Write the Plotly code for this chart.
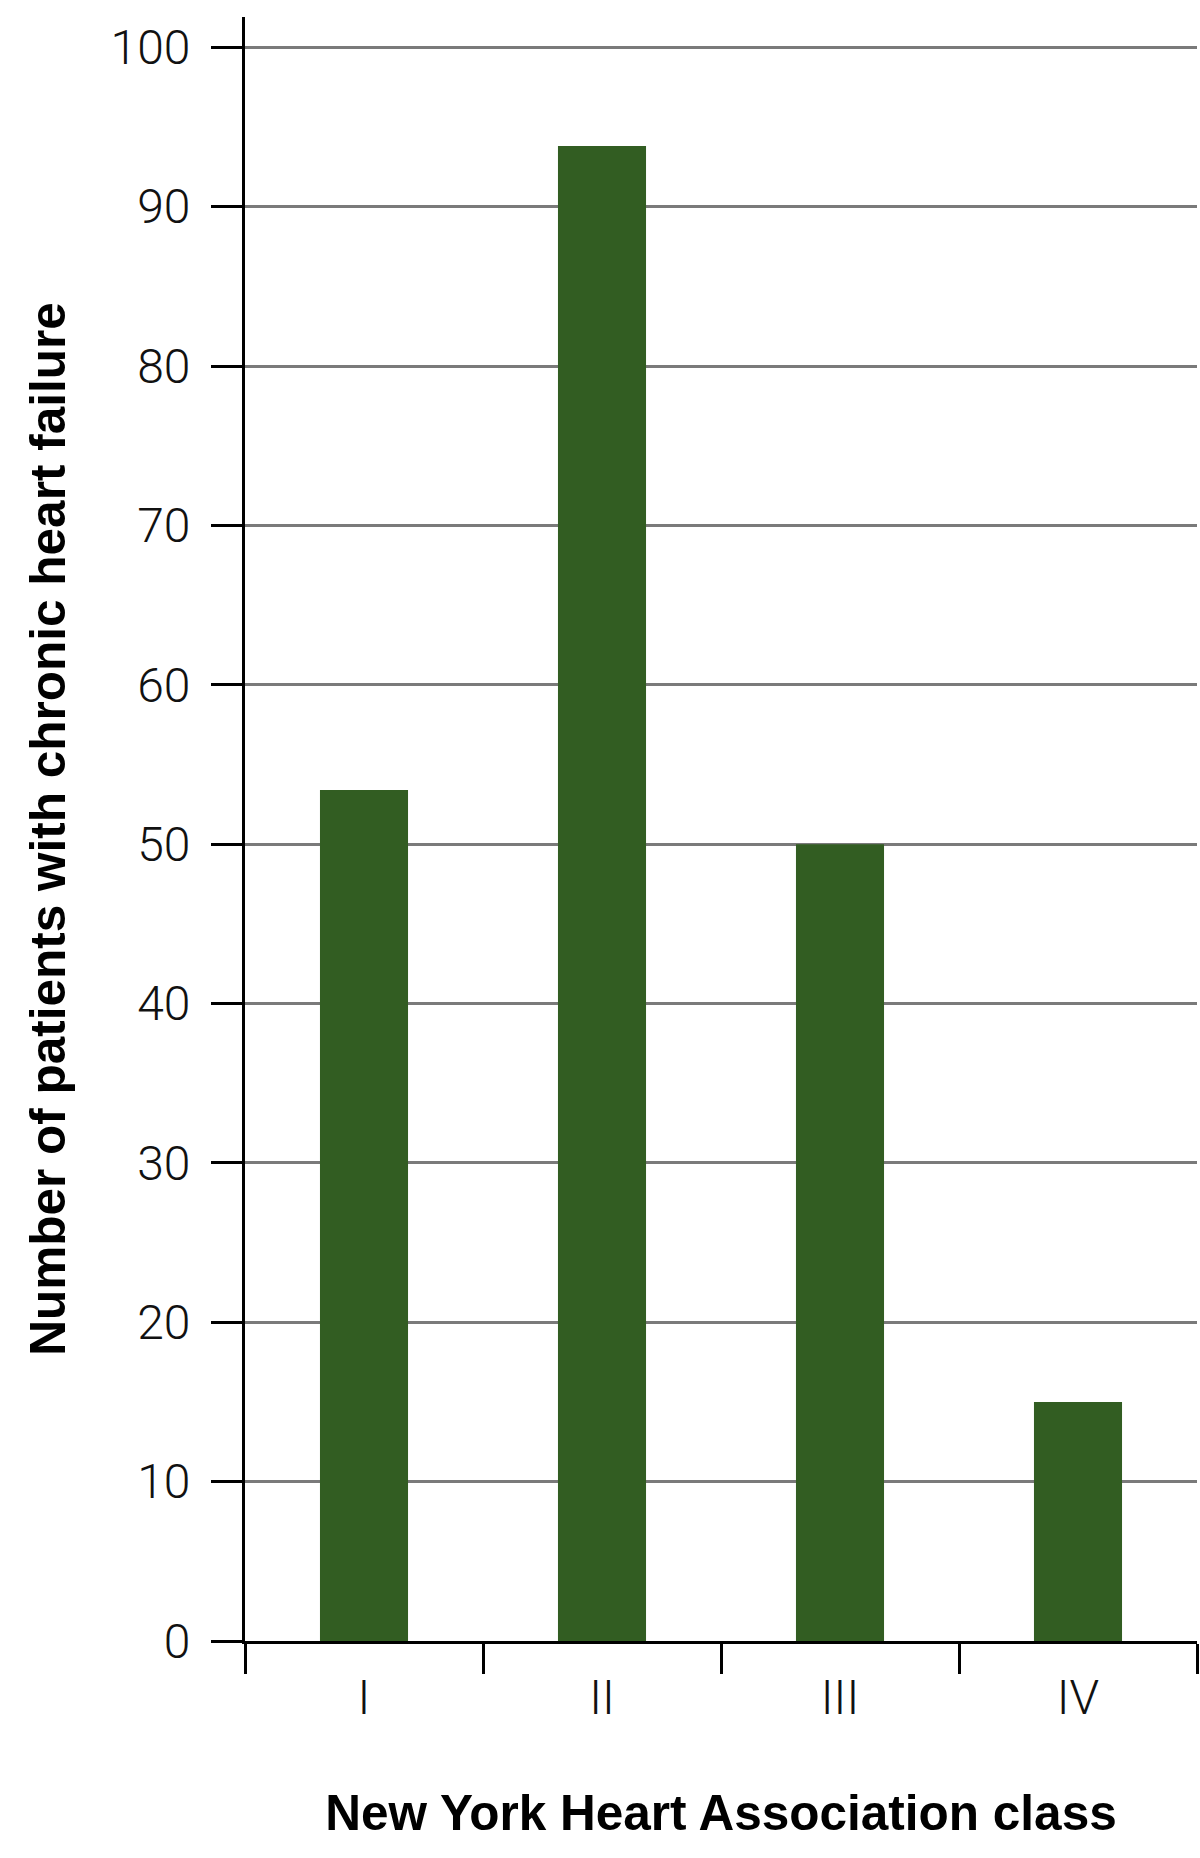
import plotly.graph_objects as go

categories = ["I", "II", "III", "IV"]
patients = [53.4, 93.8, 50, 15]
y_ticks = [0, 10, 20, 30, 40, 50, 60, 70, 80, 90, 100]

BAR_COLOR = "#325d22"
TICK_FONT = dict(family="Roboto, Liberation Sans, sans-serif", size=48, color="#111111", weight=300)
TITLE_FONT = dict(family="Liberation Sans, Arial, sans-serif", size=49.5, color="#000000", weight="bold")

fig = go.Figure(
    go.Bar(
        x=categories,
        y=patients,
        width=0.37,
        marker=dict(color=BAR_COLOR, line=dict(width=0)),
        showlegend=False,
    )
)

fig.update_layout(
    width=1200,
    height=1858,
    margin=dict(l=245, r=3, t=17, b=217),
    paper_bgcolor="white",
    plot_bgcolor="white",
    bargap=0.63,
)

fig.update_xaxes(
    type="category",
    range=[-0.5, 3.5],
    automargin=False,
    showline=True,
    linecolor="black",
    linewidth=3,
    ticks="outside",
    tickson="boundaries",
    ticklen=30,
    tickwidth=2.5,
    tickcolor="black",
    tickfont=TICK_FONT,
    ticklabelstandoff=12,
    showgrid=False,
    title=dict(text="New York Heart Association class", font=TITLE_FONT, standoff=71),
    zeroline=False,
)

fig.update_yaxes(
    range=[0, 101.9],
    automargin=False,
    tickvals=y_ticks,
    ticktext=[str(v) for v in y_ticks],
    showline=True,
    linecolor="black",
    linewidth=3,
    ticks="outside",
    ticklen=31,
    tickwidth=3,
    tickcolor="black",
    tickfont=TICK_FONT,
    ticklabelstandoff=11,
    showgrid=True,
    gridcolor="#7a7a7a",
    gridwidth=2.5,
    zeroline=False,
    title=dict(text="Number of patients with chronic heart failure", font=TITLE_FONT, standoff=30),
)

# Remove the default page margin and scrollbars so the 1200x1858 figure fills the window exactly.
fig.write_html(
    "out.html",
    config={"displayModeBar": False},
    post_script="document.body.style.margin='0';document.documentElement.style.overflow='hidden';",
)
